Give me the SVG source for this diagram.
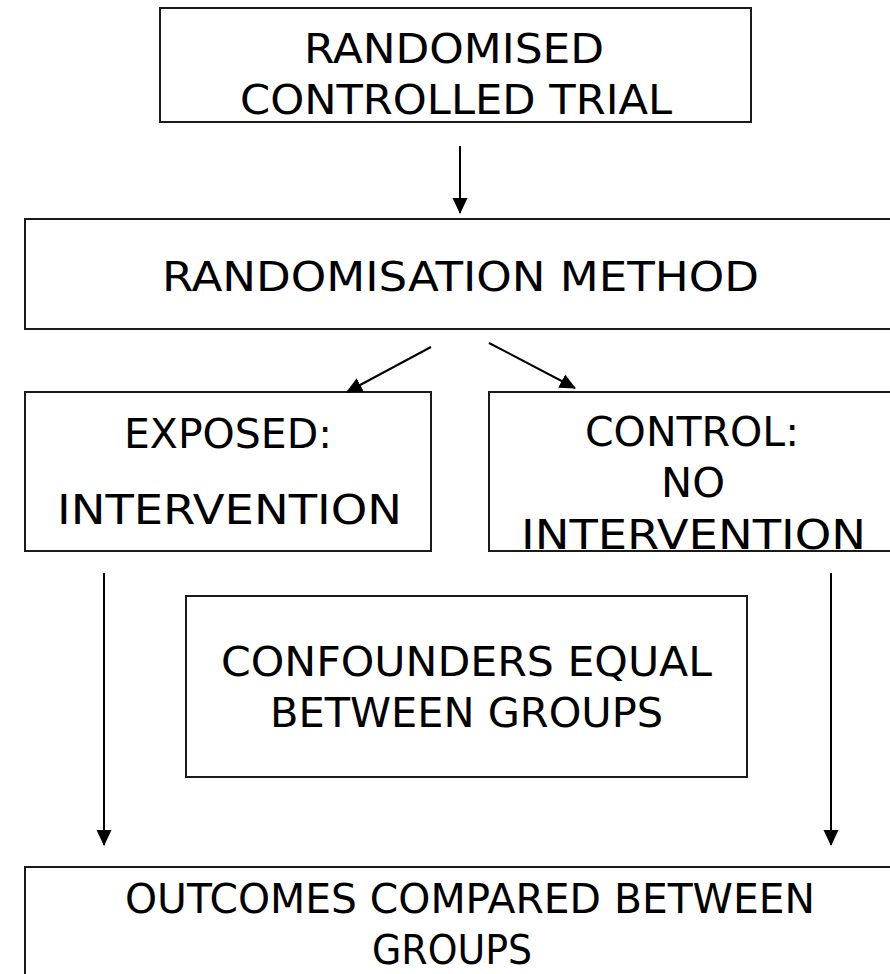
<svg xmlns="http://www.w3.org/2000/svg" width="890" height="974" viewBox="0 0 890 974">
<style>
.box{fill:#fff;stroke:#1a1a1a;stroke-width:2}
.t{font-family:"DejaVu Sans","Liberation Sans",sans-serif;font-size:41px;fill:#000;text-anchor:middle}
.c{stroke:#000;stroke-width:2;fill:none;marker-end:url(#ah)}
</style>
<defs>
<marker id="ah" markerUnits="userSpaceOnUse" markerWidth="16" markerHeight="16" viewBox="0 0 16 16" refX="15" refY="8" orient="auto">
<path d="M0,0.5 L16,8 L0,15.5 Z" fill="#000"/>
</marker>
</defs>
<rect width="890" height="974" fill="#fff"/>
<g id="rct">
<rect class="box" x="160" y="8" width="591" height="114"/>
<text class="t" x="454" y="63" textLength="300" lengthAdjust="spacingAndGlyphs">RANDOMISED</text>
<text class="t" x="456" y="114" textLength="432" lengthAdjust="spacingAndGlyphs">CONTROLLED TRIAL</text>
</g>
<g id="method">
<rect class="box" x="25" y="219" width="875" height="110"/>
<text class="t" x="460.5" y="291" textLength="597" lengthAdjust="spacingAndGlyphs">RANDOMISATION METHOD</text>
</g>
<g id="exposed">
<rect class="box" x="25" y="392" width="406" height="159"/>
<text class="t" x="228" y="448" textLength="208" lengthAdjust="spacingAndGlyphs">EXPOSED:</text>
<text class="t" x="229.5" y="524" textLength="345" lengthAdjust="spacingAndGlyphs">INTERVENTION</text>
</g>
<g id="control">
<rect class="box" x="489" y="392" width="411" height="159"/>
<text class="t" x="692" y="446" textLength="214" lengthAdjust="spacingAndGlyphs">CONTROL:</text>
<text class="t" x="693" y="497" textLength="64" lengthAdjust="spacingAndGlyphs">NO</text>
<text class="t" x="693.5" y="549" textLength="345" lengthAdjust="spacingAndGlyphs">INTERVENTION</text>
</g>
<g id="confounders">
<rect class="box" x="186" y="596" width="561" height="181"/>
<text class="t" x="466.5" y="676" textLength="491" lengthAdjust="spacingAndGlyphs">CONFOUNDERS EQUAL</text>
<text class="t" x="466.5" y="727" textLength="393" lengthAdjust="spacingAndGlyphs">BETWEEN GROUPS</text>
</g>
<g id="outcomes">
<rect class="box" x="25" y="867" width="875" height="120"/>
<text class="t" x="470" y="913" textLength="690" lengthAdjust="spacingAndGlyphs">OUTCOMES COMPARED BETWEEN</text>
<text class="t" x="452" y="964" textLength="160" lengthAdjust="spacingAndGlyphs">GROUPS</text>
</g>
<g id="connectors">
<line class="c" x1="460" y1="146" x2="460" y2="213"/>
<line class="c" x1="431" y1="347" x2="347" y2="392"/>
<line class="c" x1="489" y1="343" x2="575" y2="388"/>
<line class="c" x1="104" y1="573" x2="104" y2="845"/>
<line class="c" x1="831" y1="573" x2="831" y2="845"/>
</g>
</svg>
